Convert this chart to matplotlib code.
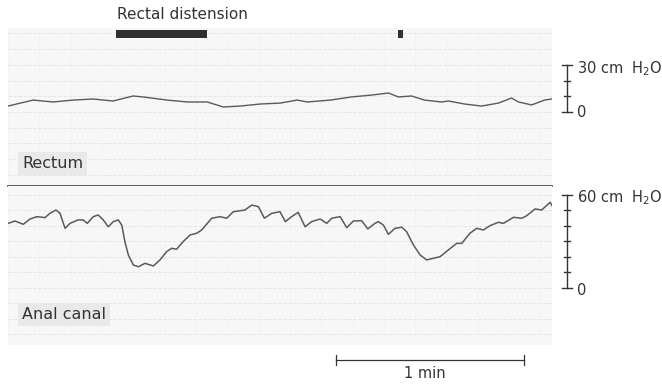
import matplotlib
matplotlib.use("Agg")
import matplotlib.pyplot as plt
from matplotlib.patches import Rectangle

# time in seconds, pressure in cm H2O
rect_t = [0.0, 8.0, 14.4, 20.8, 27.2, 33.5, 39.9, 43.1, 50.8, 57.2, 63.6, 68.7,
          74.1, 80.5, 86.9, 92.3, 95.5, 102.9, 109.6, 116.0, 121.4, 124.6, 128.8,
          132.9, 138.3, 140.6, 145.7, 151.1, 156.5, 160.7, 162.9, 167.1, 171.2, 173.5]
rect_p = [3.8, 7.6, 6.4, 7.6, 8.3, 7.0, 10.2, 9.6, 7.6, 6.4, 6.4, 3.2,
          3.8, 5.1, 5.7, 7.6, 6.4, 7.6, 9.6, 10.8, 12.1, 9.6, 10.2,
          7.6, 6.4, 7.0, 5.1, 3.8, 5.7, 8.9, 6.4, 4.5, 7.6, 8.3]

anal_t = [0.1, 2.2, 4.9, 7.0, 9.2, 11.8, 13.4, 15.3, 16.6, 18.2, 19.8, 22.4,
          24.0, 25.3, 27.2, 28.8, 30.4, 32.0, 33.6, 35.2, 36.3, 37.3, 38.4,
          40.0, 41.6, 43.7, 46.4, 48.5, 50.6, 52.2, 53.8, 55.9, 58.1, 60.2,
          61.8, 65.0, 67.7, 69.8, 71.9, 75.6, 77.8, 79.9, 81.8, 84.2, 86.8,
          88.5, 90.5, 92.6, 94.8, 96.9, 99.6, 101.7, 103.3, 106.0, 108.1, 110.2,
          112.9, 114.8, 117.1, 118.2, 119.8, 121.4, 123.5, 125.7, 127.2, 129.4,
          131.5, 133.6, 137.9, 140.5, 143.2, 144.8, 147.4, 149.6, 151.7, 153.8,
          156.5, 158.1, 161.3, 164.0, 165.5, 168.2, 170.3, 173.0, 173.8]
anal_p = [41.7, 43.2, 41.1, 44.5, 46.0, 45.4, 48.2, 50.3, 48.2, 38.5, 41.7, 43.9,
          43.9, 41.7, 46.0, 47.1, 43.9, 39.5, 42.8, 43.9, 40.6, 29.9, 21.3,
          14.8, 13.7, 15.9, 14.2, 18.1, 23.4, 25.6, 25.0, 29.9, 34.2, 35.3,
          37.4, 45.0, 46.0, 45.0, 49.2, 50.3, 53.5, 52.5, 45.0, 48.2, 49.2,
          42.8, 46.0, 48.8, 39.5, 42.8, 44.5, 41.7, 45.0, 46.0, 38.9, 43.2,
          43.4, 38.1, 41.7, 42.8, 40.6, 34.6, 38.5, 39.2, 36.3, 27.7,
          21.3, 18.1, 20.2, 24.5, 28.8, 28.8, 35.3, 38.5, 37.4, 40.2,
          42.4, 41.7, 45.6, 45.0, 46.6, 51.0, 50.3, 55.3, 52.5]

distension = [(34.5, 63.6), (124.6, 126.2)]
rect_scale = [0, 10, 20, 30]
anal_scale = [0, 10, 20, 30, 40, 50, 60]
time_bar = (104.7, 164.7)

INK = "#333333"
TRACE = "#5a5a5a"
PAPER = "#f7f7f7"
W, H = 662, 384
T_MAX = 173.6

fig = plt.figure(figsize=(W / 100, H / 100), dpi=100, facecolor="white")
ax_r = fig.add_axes([8 / W, 1 - 186 / H, 544 / W, 158 / H])
ax_a = fig.add_axes([8 / W, 1 - 345 / H, 544 / W, 159 / H])

for ax in (ax_r, ax_a):
    ax.set_facecolor(PAPER)
    ax.set_xticks(range(0, 174, 10))
    ax.set_yticks(range(-40, 70, 10))
    ax.grid(True, axis="y", color="#e2e2e2", lw=0.6, ls=(0, (4, 2)))
    ax.grid(True, axis="x", color="#ececec", lw=0.5, ls=(0, (2, 3)))
    ax.tick_params(length=0, labelbottom=False, labelleft=False)
    for s in ax.spines.values():
        s.set_visible(False)
    ax.set_xlim(0, T_MAX)

# limits after the ticks, otherwise set_yticks widens them
ax_r.set_ylim(-47.1, 53.5)
ax_a.set_ylim(-36.8, 65.8)

# separator between the two channels
ax_r.spines["bottom"].set_visible(True)
ax_r.spines["bottom"].set_color("#444444")
ax_r.spines["bottom"].set_linewidth(1.2)

ax_r.plot(rect_t, rect_p, color=TRACE, lw=1.0, solid_joinstyle="round")
ax_a.plot(anal_t, anal_p, color=TRACE, lw=1.1, solid_joinstyle="round")

for t0, t1 in distension:
    ax_r.add_patch(Rectangle((t0, 47.1), t1 - t0, 5.1, facecolor="#303030",
                             edgecolor="none", zorder=4, clip_on=False))


def scale_bar(ax, values):
    x = 178.4
    ax.plot([x, x], [values[0], values[-1]], color=INK, lw=1.0, clip_on=False)
    for i, v in enumerate(values):
        hw = 1.45 if i in (0, len(values) - 1) else 0.9
        ax.plot([x - hw, x + hw], [v, v], color=INK, lw=1.0, clip_on=False)


scale_bar(ax_r, rect_scale)
scale_bar(ax_a, anal_scale)

# 1 min bar
ax_a.plot(time_bar, [-46.5, -46.5], color=INK, lw=0.9, clip_on=False)
for tb in time_bar:
    ax_a.plot([tb, tb], [-49.6, -43.4], color=INK, lw=0.9, clip_on=False)

txt = dict(color=INK, va="baseline")
fig.text(117 / W, 1 - 19 / H, "Rectal distension", fontsize=11, ha="left", **txt)
fig.text(577 / W, 1 - 73 / H, "30 cm  H$_2$O", fontsize=10.5, ha="left", **txt)
fig.text(577 / W, 1 - 117 / H, "0", fontsize=10.5, ha="left", **txt)
fig.text(577 / W, 1 - 202 / H, "60 cm  H$_2$O", fontsize=10.5, ha="left", **txt)
fig.text(577 / W, 1 - 295 / H, "0", fontsize=10.5, ha="left", **txt)
fig.text(425 / W, 1 - 378 / H, "1 min", fontsize=10.5, ha="center", **txt)

box = dict(facecolor="#e9e9e9", edgecolor="none", pad=3)
fig.text(22 / W, 1 - 168 / H, "Rectum", fontsize=11.5, ha="left", bbox=box, **txt)
fig.text(22 / W, 1 - 319 / H, "Anal canal", fontsize=11.5, ha="left", bbox=box, **txt)

fig.savefig("out.png", dpi=100, facecolor="white")
